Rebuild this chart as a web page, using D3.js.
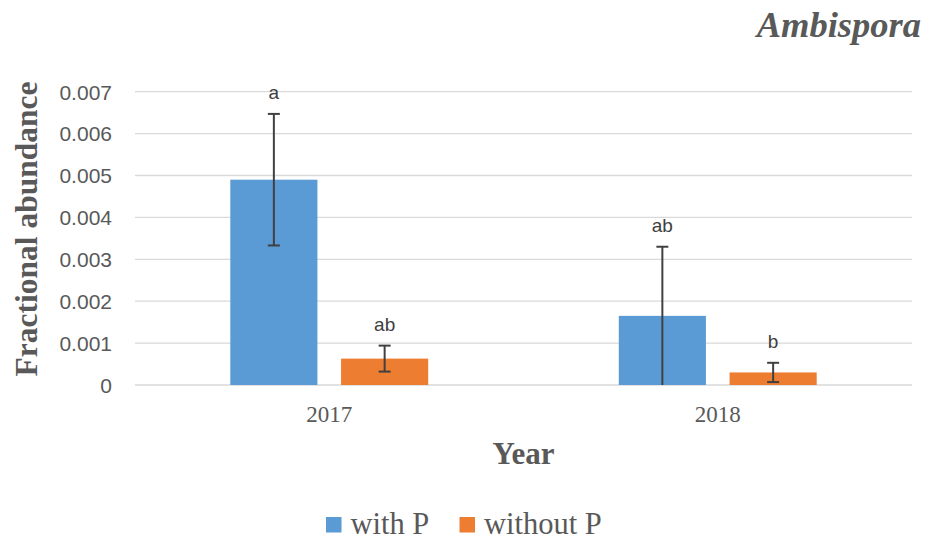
<!DOCTYPE html>
<html>
<head>
<meta charset="utf-8">
<script src="https://cdn.jsdelivr.net/npm/d3@7"></script>
<style>
  html, body { margin: 0; padding: 0; background: #fff; }
  svg { display: block; }
</style>
</head>
<body>
<svg id="chart" width="925" height="540"></svg>
<script>
const years = ["2017", "2018"];
const seriesNames = ["with P", "without P"];
const withP = [0.0049, 0.00165];
const withoutP = [0.00063, 0.0003];
const withPErr = [0.00157, 0.00165];
const withoutPErr = [0.00031, 0.00023];
const withPLetters = ["a", "ab"];
const withoutPLetters = ["ab", "b"];
const yTicks = [0, 0.001, 0.002, 0.003, 0.004, 0.005, 0.006, 0.007];
const colors = ["#5B9BD5", "#ED7D31"];

(function () {
const svg = d3.select("#chart");
const pLeft = 135, pRight = 912, pTop = 91.7, pBottom = 385;

const y = d3.scaleLinear().domain([0, 0.007]).range([pBottom, pTop]);
const x0 = d3.scaleBand().domain(years).range([pLeft, pRight]).paddingInner(0).paddingOuter(0);
const groupW = x0.bandwidth() * 197.9 / 388.5;
const x1 = d3.scaleBand().domain(seriesNames)
  .range([(x0.bandwidth() - groupW) / 2, (x0.bandwidth() + groupW) / 2])
  .paddingInner(0.2135).paddingOuter(0);

// gridlines
svg.append("g").selectAll("line").data(yTicks).join("line")
  .attr("x1", pLeft).attr("x2", pRight)
  .attr("y1", d => y(d)).attr("y2", d => y(d))
  .attr("stroke", "#D9D9D9").attr("stroke-width", 1.3);

// y axis labels
const yAxis = d3.axisLeft(y).tickValues(yTicks)
  .tickFormat(d => d === 0 ? "0" : d3.format(".3f")(d)).tickSize(0).tickPadding(0);
const yg = svg.append("g").attr("transform", `translate(${pLeft - 23},0)`).call(yAxis);
yg.select(".domain").remove();
yg.selectAll("text")
  .attr("font-family", "'Liberation Sans', Arial, sans-serif")
  .attr("font-size", 21).attr("fill", "#595959").attr("dy", "0.35em");

// x axis labels
const xAxis = d3.axisBottom(x0).tickSize(0).tickPadding(0);
const xg = svg.append("g").attr("transform", `translate(0,${pBottom})`).call(xAxis);
xg.select(".domain").remove();
xg.selectAll("text")
  .attr("font-family", "'Liberation Serif', 'Times New Roman', serif")
  .attr("font-size", 23).attr("fill", "#595959")
  .attr("y", 37).attr("dy", 0);

const data = [];
years.forEach((yr, i) => {
  data.push({ year: yr, s: seriesNames[0], v: withP[i], e: withPErr[i], l: withPLetters[i], c: colors[0] });
  data.push({ year: yr, s: seriesNames[1], v: withoutP[i], e: withoutPErr[i], l: withoutPLetters[i], c: colors[1] });
});

const cx = d => x0(d.year) + x1(d.s) + x1.bandwidth() / 2;

// bars
svg.append("g").selectAll("rect").data(data).join("rect")
  .attr("x", d => x0(d.year) + x1(d.s))
  .attr("width", x1.bandwidth())
  .attr("y", d => y(d.v))
  .attr("height", d => y(0) - y(d.v))
  .attr("fill", d => d.c);

// error bars
const eg = svg.append("g").attr("stroke", "#404040").attr("stroke-width", 2);
data.forEach(d => {
  const hi = d.v + d.e, lo = Math.max(0, d.v - d.e);
  const c = cx(d);
  eg.append("line").attr("x1", c).attr("x2", c).attr("y1", y(hi)).attr("y2", y(lo));
  eg.append("line").attr("x1", c - 6).attr("x2", c + 6).attr("y1", y(hi)).attr("y2", y(hi));
  if (d.v - d.e > 0) {
    eg.append("line").attr("x1", c - 6).attr("x2", c + 6).attr("y1", y(lo)).attr("y2", y(lo));
  }
});

// letters
svg.append("g").selectAll("text").data(data).join("text")
  .attr("x", cx)
  .attr("y", d => y(d.v + d.e) - 15)
  .attr("text-anchor", "middle")
  .attr("font-family", "'Liberation Sans', Arial, sans-serif")
  .attr("font-size", 19).attr("fill", "#404040")
  .text(d => d.l);

// axis titles
svg.append("text")
  .attr("transform", "translate(37,229) rotate(-90)")
  .attr("text-anchor", "middle")
  .attr("font-family", "'Liberation Serif', 'Times New Roman', serif")
  .attr("font-weight", "bold").attr("font-size", 31.5).attr("fill", "#595959")
  .text("Fractional abundance");

svg.append("text")
  .attr("x", (pLeft + pRight) / 2).attr("y", 463.5)
  .attr("text-anchor", "middle")
  .attr("font-family", "'Liberation Serif', 'Times New Roman', serif")
  .attr("font-weight", "bold").attr("font-size", 31).attr("fill", "#595959")
  .text("Year");

// title
svg.append("text")
  .attr("x", 921).attr("y", 37)
  .attr("text-anchor", "end")
  .attr("font-family", "'Liberation Serif', 'Times New Roman', serif")
  .attr("font-weight", "bold").attr("font-style", "italic")
  .attr("font-size", 36.5).attr("fill", "#595959")
  .text("Ambispora");

// legend
const legX = [326, 459.5];
const lg = svg.append("g");
seriesNames.forEach((s, i) => {
  lg.append("rect").attr("x", legX[i]).attr("y", 517).attr("width", 15.5).attr("height", 15.5).attr("fill", colors[i]);
  lg.append("text").attr("x", legX[i] + 24.5).attr("y", 533.5)
    .attr("font-family", "'Liberation Serif', 'Times New Roman', serif")
    .attr("font-size", 30.5).attr("fill", "#595959")
    .text(s);
});
})();
</script>
</body>
</html>
